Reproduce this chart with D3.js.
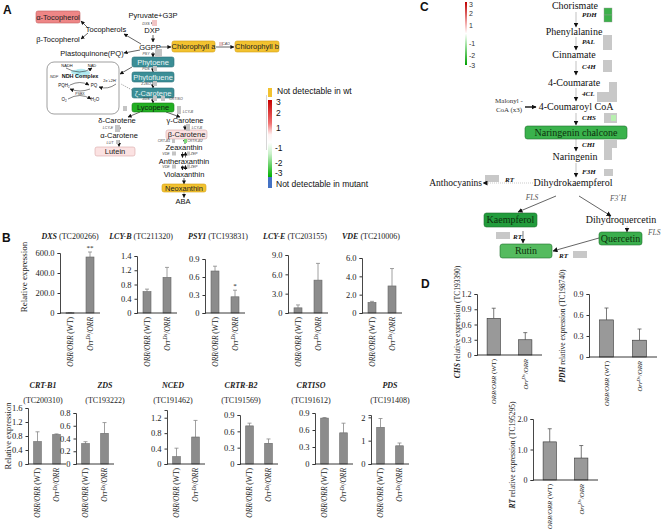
<!DOCTYPE html>
<html><head><meta charset="utf-8">
<script src="https://cdn.jsdelivr.net/npm/d3@7"></script>
<style>body{margin:0;background:#fff}svg{display:block}</style>
</head><body>
<svg id="c" width="662" height="530"></svg>
<script>
// ================= DATA =================
const genotypes = ["ORR/ORR (WT)", "Orr^Ds/ORR"];
// Panel B
const bGenes = ["DXS","LCY-B","PSY1","LCY-E","VDE","CRT-B1","ZDS","NCED","CRTR-B2","CRTISO","PDS"];
const bTC = ["TC200266","TC211320","TC193831","TC203155","TC210006","TC200310","TC193222","TC191462","TC191569","TC191612","TC191408"];
const bWtMean = [3, 0.60, 0.70, 0.80, 1.15, 0.64, 0.32, 0.19, 0.70, 0.81, 1.57];
const bWtErr  = [2, 0.07, 0.08, 0.45, 0.12, 0.28, 0.03, 0.22, 0.05, 0.01, 0.38];
const bMutMean = [560, 1.00, 0.27, 5.1, 2.95, 0.84, 0.48, 0.70, 0.38, 0.55, 0.78];
const bMutErr  = [50, 0.28, 0.11, 2.6, 1.9, 0.02, 0.17, 0.43, 0.08, 0.17, 0.12];
const bSig = ["**","","*","","","","","","","",""];
const bTicks = [[0,200,400,600],[0,0.4,0.8,1.2,1.6],[0,0.3,0.6,0.9],[0,3,6,9],[0,2,4,6],
  [0,0.4,0.8,1.2,1.6],[0,0.2,0.4,0.6,0.8],[0,0.4,0.8,1.2],[0,0.3,0.6,0.9],[0,0.3,0.6,0.9],[0,1,2]];
const bTickLabels = [["0","200.0","400.0","600.0"],["0","0.4","0.8","1.2","1.4"],["0","0.3","0.6","0.9"],
  ["0","3.0","6.0","9.0"],["0","2.0","4.0","6.0"],["0","0.4","0.8","1.2","1.6"],["0","0.2","0.4","0.6","0.8"],
  ["0","0.4","0.8","1.2"],["0","0.3","0.6","0.9"],["0","0.3","0.6","0.9"],["0","1","2"]];
const bMax = [600,1.6,0.9,9,6,1.6,0.8,1.4,0.9,0.9,2.1];
// Panel D
const dGenes = ["CHS","PDH","RT"];
const dTC = ["TC193390","TC198740","TC195295"];
const dWtMean = [0.72, 0.53, 1.25];
const dWtErr = [0.20, 0.17, 0.43];
const dMutMean = [0.30, 0.24, 0.72];
const dMutErr = [0.14, 0.16, 0.41];
const dTicks = [[0,0.3,0.6,0.9,1.2],[0,0.3,0.6,0.9],[0,1,2]];
const dTickLabels = [["0","0.3","0.6","0.9","1.2"],["0","0.3","0.6","0.9"],["0","1.0","2.0"]];
const dMax = [1.2,0.9,2.0];
// Legend scales
const legendATicks = ["3","2","1","-1","-2","-3"];
const legendCTicks = ["3","2","1","-1","-2","-3"];

// ================= SETUP =================
const serif = "'Liberation Serif','Times New Roman',serif";
const sans = "'Liberation Sans',Arial,sans-serif";
const svg = d3.select("#c");
const defs = svg.append("defs");
function mk(id, size, col){
  defs.append("marker").attr("id",id).attr("viewBox","0 0 10 10").attr("refX",9).attr("refY",5)
    .attr("markerWidth",size).attr("markerHeight",size).attr("markerUnits","userSpaceOnUse").attr("orient","auto")
    .append("path").attr("d","M0,0L10,5L0,10z").attr("fill",col);
}
mk("ah",4,"#111"); mk("ah5",5,"#111"); mk("ahg",4,"#555");
function gradient(id, stops){
  const lg = defs.append("linearGradient").attr("id",id).attr("x1",0).attr("x2",0).attr("y1",0).attr("y2",1);
  stops.forEach(s=>lg.append("stop").attr("offset",s[0]).attr("stop-color",s[1]));
}
gradient("gA",[[0,"#c80000"],[0.3,"#f07070"],[0.45,"#fff2f2"],[0.55,"#ffffff"],[0.7,"#c8f0c8"],[1,"#00b000"]]);
gradient("gC",[[0,"#c00000"],[0.35,"#f4b0b0"],[0.5,"#ffffff"],[0.65,"#b0e8b0"],[1,"#00a000"]]);

function txt(g,x,y,s,o={}){
  return g.append("text").attr("x",x).attr("y",y).text(s)
    .attr("font-family",o.f||sans).attr("font-size",o.s||7.5).attr("fill",o.c||"#111")
    .attr("text-anchor",o.a||"middle").attr("font-style",o.i?"italic":null).attr("font-weight",o.b?"bold":null);
}
function arrow(g,x1,y1,x2,y2,o={}){
  g.append("line").attr("x1",x1).attr("y1",y1).attr("x2",x2).attr("y2",y2)
    .attr("stroke",o.c||"#222").attr("stroke-width",o.w||0.7).attr("stroke-dasharray",o.dash||null)
    .attr("marker-end",o.m===null?null:`url(#${o.m||"ah"})`);
}
function box(g,x,y,w,h,fill,stroke,r){
  g.append("rect").attr("x",x).attr("y",y).attr("width",w).attr("height",h).attr("rx",r==null?2:r)
    .attr("fill",fill).attr("stroke",stroke).attr("stroke-width",0.6);
}

// ================= PANEL LABELS =================
txt(svg,3,14,"A",{b:true,s:12,a:"start"});
txt(svg,2,242,"B",{b:true,s:12,a:"start"});
txt(svg,420,11,"C",{b:true,s:12,a:"start"});
txt(svg,421,288,"D",{b:true,s:12,a:"start"});

// ================= PANEL A =================
const gA = svg.append("g");
const aPlain = [["Pyruvate+G3P",153,18],["DXP",152,33],["Tocopherols",106,32],["β-Tocopherol",58,42],["GGPP",150,50],
  ["Plastoquinone(PQ)",92,55.5],["δ-Carotene",117,123],["γ-Carotene",185,123],["α-Carotene",119,138],
  ["Zeaxanthin",184,150],["Antheraxanthin",184,163.5],["Violaxanthin",184,176.5],["ABA",183,204]];
const aBoxes = [["α-Tocopherol",36,11,44,12,"#ee8686","#c46060","#222"],["Chlorophyll a",172,41,43,11,"#f2c230","#d4a010","#222"],
  ["Chlorophyll b",235,41,44,11,"#f2c230","#d4a010","#222"],["Phytoene",132,57,42,10,"#3b8e96","#2c7078","#e8f4f4"],
  ["Phytofluene",132,72,42,10,"#3b8e96","#2c7078","#e8f4f4"],["ζ-Carotene",132,88,42,10,"#3b8e96","#2c7078","#e8f4f4"],
  ["Lycopene",132,103,42,9,"#22b022","#178017","#102010"],["β-Carotene",166,130,41,9,"#fbe2e2","#d9a8a8","#222"],
  ["Lutein",95,147,40,9,"#fbe2e2","#d9a8a8","#222"],["Neoxanthin",162,184,44,8,"#f2c230","#d4a010","#222"]];
// arrows
[[153,20,153,26],[153,35,153,42],[141,44,124,34],[88,28,81,21],[88,33,81,39],[140,50,124,53],[160,47,171,47],
 [216,47,234,47],[153,52,153,57],[153,67,153,72],[153,82,153,88],[153,98,153,103],[140,112,128,117],
 [166,112,180,117],[119,125,119,131],[119,140,119,146.5],[185,125,185,130],[185,139.5,185,143.5],
 [182.5,152,182.5,157.5],[185.5,157.5,185.5,152],[182.5,165.5,182.5,170],[185.5,170,185.5,165.5],
 [184,178,184,184],[132,67,120,74]].forEach(a=>arrow(gA,...a));
arrow(gA,184,192.5,184,197.5,{dash:"1,1"});
arrow(gA,132,90,121,84,{dash:"1,1.2",c:"#666",m:null});
aBoxes.forEach(b=>{ box(gA,b[1],b[2],b[3],b[4],b[5],b[6],2); txt(gA,b[1]+b[3]/2,b[2]+b[4]/2+2.6,b[0],{s:7.5,c:b[7]}); });
aPlain.forEach(t=>txt(gA,t[1],t[2],t[0],{s:7.5}));
// small heat squares + gene labels
[[152,20,5,6,"#f2c4c4"],[155,49,7,8,"#c4c4c4"],[153,66,4,5,"#c4c4c4"],[153,81,4,5,"#c4c4c4"],[153,96,4,5,"#c4c4c4"],
 [161,96,4,5,"#c4c4c4"],[123,106,4,5,"#c4c4c4"],[177,106,4,8,"#c4c4c4"],[115,125,5,7,"#c4c4c4"],[186,124,4,7,"#c4c4c4"],
 [116,140,3,4,"#c4c4c4"],[172,139,3,4,"#c4c4c4"],[184,139,3,4,"#7ddc7d"],[172,151.5,4,4,"#c4c4c4"],[187,151.5,3,4,"#c4c4c4"],
 [172,164.5,4,4,"#c4c4c4"],[187,164.5,3,4,"#c4c4c4"],[219,42,4,4,"#e8c8c8"]]
 .forEach(s=>gA.append("rect").attr("x",s[0]).attr("y",s[1]).attr("width",s[2]).attr("height",s[3]).attr("fill",s[4]));
[["DXS",146,24.5],["PSY",146,54.5],["PDS",146,70],["Z-ISO",146,85],["ZDS",146,100],["CRTISO",176,100],["LCY-B",188,113],
 ["LCY-E",108,129],["LCY-B",197,129],["CRT-B1",164,142],["CRTR-B2",195,142],["VDE",166,155],["ZEP",194,155],
 ["VDE",166,168],["ZEP",194,168],["CAO",226,45],["LUT",110,144]]
 .forEach(t=>txt(gA,t[1],t[2],t[0],{s:3.6,i:true,c:"#444"}));
// NDH complex box
gA.append("rect").attr("x",47).attr("y",62).attr("width",72).attr("height",52).attr("rx",7)
  .attr("fill","none").attr("stroke","#777").attr("stroke-width",0.7);
[[76,72,5],[81,71,5],[86,73,4],[79,75,4]].forEach(c=>gA.append("ellipse").attr("cx",c[0]).attr("cy",c[1]).attr("rx",c[2]).attr("ry",2.2).attr("fill","#9fe3ec").attr("opacity",0.8));
txt(gA,67,66.5,"NADH",{s:4});txt(gA,92,66.5,"NAD",{s:4});
txt(gA,54,77.5,"NDF",{s:4,i:true,c:"#333"});
txt(gA,80,77.5,"NDH Complex",{s:5.5,b:true});
txt(gA,64,87,"PQH₂",{s:4.5});txt(gA,94,87,"PQ",{s:4.5});
txt(gA,80,95,"PSBX",{s:3.5,c:"#333"});
txt(gA,64,101,"O₂",{s:4.5});txt(gA,95,101,"H₂O",{s:4.5});
txt(gA,110,82,"2e⁻+2H⁺",{s:3.8});
gA.append("path").attr("d","M66,68 Q80,76 92,68").attr("fill","none").attr("stroke","#333").attr("stroke-width",0.6).attr("marker-end","url(#ah)");
gA.append("path").attr("d","M70,85 Q80,80 89,85").attr("fill","none").attr("stroke","#333").attr("stroke-width",0.6).attr("marker-end","url(#ah)");
gA.append("path").attr("d","M90,89 Q80,93 70,89").attr("fill","none").attr("stroke","#333").attr("stroke-width",0.6).attr("marker-end","url(#ah)");
gA.append("path").attr("d","M68,99 Q80,92 91,99").attr("fill","none").attr("stroke","#333").attr("stroke-width",0.6).attr("marker-end","url(#ah)");
gA.append("path").attr("d","M116,84 Q108,90 99,87").attr("fill","none").attr("stroke","#333").attr("stroke-width",0.6).attr("marker-end","url(#ah)");
// legend A
gA.append("line").attr("x1",266.5).attr("x2",266.5).attr("y1",95).attr("y2",150).attr("stroke","#ccc").attr("stroke-width",0.8);
gA.append("rect").attr("x",268).attr("y",88).attr("width",4).attr("height",9).attr("fill","#f2c230");
gA.append("rect").attr("x",268).attr("y",100).attr("width",4).attr("height",77).attr("fill","url(#gA)");
gA.append("rect").attr("x",268).attr("y",177).attr("width",4).attr("height",11).attr("fill","#4472c4");
txt(gA,277,94,"Not detectable in wt",{s:8.5,a:"start"});
[105,116,131,151,166,176].forEach((y,i)=>txt(gA,legendATicks[i].startsWith("-")?275:276,y,legendATicks[i],{s:8.5,a:"start"}));
txt(gA,276,187,"Not detectable in mutant",{s:8.5,a:"start"});

// ================= BAR CHART HELPER =================
function catLabel(g, cx, y, s, fs){
  const t = g.append("text").attr("transform",`translate(${cx+fs*0.35},${y}) rotate(-90)`)
    .attr("text-anchor","end").attr("font-family",serif).attr("font-size",fs).attr("fill","#222");
  if (s.includes("^")) {
    const [a, rest] = s.split("^"); const sup = rest.split("/")[0]; const tail = rest.slice(sup.length);
    t.append("tspan").attr("font-style","italic").text(a);
    t.append("tspan").attr("font-style","italic").attr("font-size",fs*0.7).attr("dy",-fs*0.35).text(sup);
    t.append("tspan").attr("font-style","italic").attr("dy",fs*0.35).text(tail);
  } else {
    const m = s.match(/^(.*?)( \(.*\))$/);
    t.append("tspan").attr("font-style","italic").text(m[1]);
    t.append("tspan").text(m[2]);
  }
}
function barChart(g, L, d){
  const x = d3.scaleBand().domain(genotypes).range([L.ax, L.ax+L.w]).paddingInner(L.pi).paddingOuter(L.po);
  const y = d3.scaleLinear().domain([0, d.max]).range([L.base, L.top]);
  const ax = d3.axisLeft(y).tickValues(d.ticks).tickFormat(v=>d.labels[d.ticks.indexOf(v)]).tickSizeOuter(0).tickSize(2.5).tickPadding(3);
  const ag = g.append("g").attr("transform",`translate(${L.ax},0)`).call(ax);
  ag.select(".domain").attr("stroke","#333").attr("stroke-width",0.9);
  ag.selectAll(".tick line").attr("stroke","#333");
  ag.selectAll(".tick text").attr("font-family",serif).attr("font-size",L.tfs).attr("fill","#222");
  const vals = [{k:genotypes[0],v:d.wt,e:d.wtE},{k:genotypes[1],v:d.mut,e:d.mutE}];
  vals.forEach((b,i)=>{
    const bx = x(b.k), bw = x.bandwidth(), cx = bx+bw/2;
    g.append("line").attr("x1",cx).attr("x2",cx).attr("y1",y(b.v)).attr("y2",y(b.v+b.e)).attr("stroke",L.ec).attr("stroke-width",0.8);
    g.append("line").attr("x1",cx-2).attr("x2",cx+2).attr("y1",y(b.v+b.e)).attr("y2",y(b.v+b.e)).attr("stroke",L.ec).attr("stroke-width",0.8);
    g.append("rect").attr("x",bx).attr("y",y(b.v)).attr("width",bw).attr("height",Math.max(0.6,L.base-y(b.v)))
      .attr("fill",L.fill).attr("stroke",L.stroke).attr("stroke-width",0.6);
    if (i===1 && d.sig) txt(g,cx,y(b.v+b.e)-2,d.sig,{f:serif,s:7});
    catLabel(g, cx, L.base+L.lo, b.k, L.cfs);
  });
  g.append("line").attr("x1",L.ax).attr("x2",L.ax+L.w).attr("y1",L.base).attr("y2",L.base).attr("stroke","#222").attr("stroke-width",0.9);
}

// ================= PANEL B =================
const gB = svg.append("g");
const bAxisX = [60,137,205,288,362,28,76,167,240,315,371];
const bTopY = [253,256,259,255,258,408,413,410,415,413,415];
const titleX = [70,141,218,295,371,43,105,173,241,311,390];
bGenes.forEach((gene,i)=>{
  const row1 = i<5;
  const L = {ax:bAxisX[i], w:row1?40:38, base:row1?313:464, top:bTopY[i], pi:0.6, po:0.3,
    tfs:8.5, cfs:7.5, lo:4, fill:"#8c8c8c", stroke:"#666", ec:"#888"};
  barChart(gB, L, {max:bMax[i], ticks:bTicks[i], labels:bTickLabels[i], wt:bWtMean[i], wtE:bWtErr[i],
    mut:bMutMean[i], mutE:bMutErr[i], sig:bSig[i]});
  if (row1) {
    const t = txt(gB,titleX[i],239,"",{f:serif,s:8,c:"#222"});
    t.append("tspan").attr("font-weight","bold").attr("font-style","italic").text(gene);
    t.append("tspan").text(` (${bTC[i]})`);
  } else {
    txt(gB,titleX[i],388,gene,{f:serif,s:8,b:true,i:true,c:"#222"});
    txt(gB,titleX[i],403,`(${bTC[i]})`,{f:serif,s:8,c:"#222"});
  }
});
gB.append("text").attr("transform","translate(27,277) rotate(-90)").attr("text-anchor","middle")
  .attr("font-family",serif).attr("font-size",9).attr("fill","#222").text("Relative expression");
gB.append("text").attr("transform","translate(11,436) rotate(-90)").attr("text-anchor","middle")
  .attr("font-family",serif).attr("font-size",8.5).attr("fill","#222").text("Relative expression");

// ================= PANEL D =================
const gD = svg.append("g");
const dAxisX = [477,589,533], dW = [65,68,65], dBase = [355,357,480], dTop = [294,294,419];
const dTitlePos = [[460,322],[565,326],[515,455]];
dGenes.forEach((gene,i)=>{
  const L = {ax:dAxisX[i], w:dW[i], base:dBase[i], top:dTop[i], pi:0.58, po:0.32,
    tfs:8, cfs:6.8, lo:4, fill:"#999", stroke:"#333", ec:"#555"};
  barChart(gD, L, {max:dMax[i], ticks:dTicks[i], labels:dTickLabels[i], wt:dWtMean[i], wtE:dWtErr[i],
    mut:dMutMean[i], mutE:dMutErr[i], sig:""});
  const t = gD.append("text").attr("transform",`translate(${dTitlePos[i][0]},${dTitlePos[i][1]}) rotate(-90)`)
    .attr("text-anchor","middle").attr("font-family",serif).attr("font-size",7.5).attr("fill","#222");
  t.append("tspan").attr("font-weight","bold").attr("font-style","italic").text(gene);
  t.append("tspan").text(`  relative expression (${dTC[i]})`);
});

// ================= PANEL C =================
const gC = svg.append("g");
gC.append("rect").attr("x",465).attr("y",2).attr("width",2).attr("height",63).attr("fill","url(#gC)");
[5,14,26,44,56,66].forEach((y,i)=>txt(gC,469,y+2,legendCTicks[i],{s:7,a:"start",c:"#333"}));
const cText = [["Chorismate",575,9],["Phenylalanine",574,35],["Cinnamate",574,58],["4-Coumarate",574,86],
  ["4-Coumaroyl CoA",576,110],["Naringenin",575,160],["Dihydrokaempferol",573,186],["Dihydroquercetin",621,223]];
cText.forEach(t=>txt(gC,t[1],t[2],t[0],{f:serif,s:10}));
txt(gC,482,186,"Anthocyanins",{f:serif,s:9.5,a:"end"});
txt(gC,509,103,"Malonyl -",{f:serif,s:7,c:"#333"});
txt(gC,509,112,"CoA (x3)",{f:serif,s:7,c:"#333"});
arrow(gC,525,107,536,107,{w:1.5,m:"ah5"});
// vertical arrows
[[12,27],[37,50],[61,75],[88,101],[113,125],[139,151],[163,177]].forEach(a=>arrow(gC,576,a[0],576,a[1],{c:"#999",w:0.6,m:"ah5"}));
[["PDH",15],["PAL",42],["C4H",67],["4CL",94],["CHS",118],["CHI",145],["F3H",172]].forEach(e=>txt(gC,582,e[1]+2,e[0],{f:serif,s:7,b:true,i:true,a:"start"}));
// heat boxes
const gray="#c8c8c8";
[[604,8,8,7,"#3cb04a"],[604,15,8,7,"#3cb04a"],[603,35,9,15,gray],[603,60,9,12,gray],[609,82,8,11,gray],[597,92,20,10,gray],
 [604,113,13,10,gray],[604,140,13,8,gray],[604,147,8,13,gray],[604,169,9,7,gray],[485,175,14,7,gray],[496,232,14,7,gray],[573,251,14,7,gray]]
 .forEach(s=>gC.append("rect").attr("x",s[0]).attr("y",s[1]).attr("width",s[2]).attr("height",s[3]).attr("fill",s[4]).attr("stroke",s[4]===gray?null:"#999").attr("stroke-width",0.4));
gC.append("rect").attr("x",611).attr("y",115).attr("width",5).attr("height",6).attr("fill","#b8f0b0");
// green boxes
[["Naringenin  chalcone",525,126,102,13,"#3ab24c"],["Kaempferol",484,213,53,14,"#229c3c"],["Quercetin",599,232,43,13,"#3aae4c"],["Rutin",500,244,52,14,"#55bb5f"]]
 .forEach(b=>{ box(gC,b[1],b[2],b[3],b[4],b[5],"#1f6e2e",2.5); txt(gC,b[1]+b[3]/2,b[2]+b[4]/2+3.4,b[0],{f:serif,s:10,c:"#0d300d"}); });
// other arrows
arrow(gC,533,183,483,183,{c:"#aaa",w:0.6,dash:"1,1",m:"ah5"});
txt(gC,505,182,"RT",{f:serif,s:7,b:true,i:true,a:"start"});
arrow(gC,556,196,518,212,{c:"#222",w:0.7,m:"ah5"});
arrow(gC,579,196,611,216,{c:"#222",w:0.7,m:"ah5"});
txt(gC,532,200,"FLS",{f:serif,s:7.5,i:true,c:"#555"});
txt(gC,618,201,"F3΄H",{f:serif,s:7.5,i:true,c:"#555"});
arrow(gC,627,226,627,232,{c:"#aaa",w:0.6,m:"ah5"});
txt(gC,648,235,"FLS",{f:serif,s:7.5,i:true,c:"#555",a:"start"});
arrow(gC,523,231,523,243,{c:"#222",w:0.6,m:"ah5"});
txt(gC,513,239,"RT",{f:serif,s:7,b:true,i:true,a:"start"});
arrow(gC,599,238,553,251,{c:"#222",w:0.7,m:"ah5"});
txt(gC,559,258,"RT",{f:serif,s:7,b:true,i:true,a:"start"});
</script>
</body></html>
